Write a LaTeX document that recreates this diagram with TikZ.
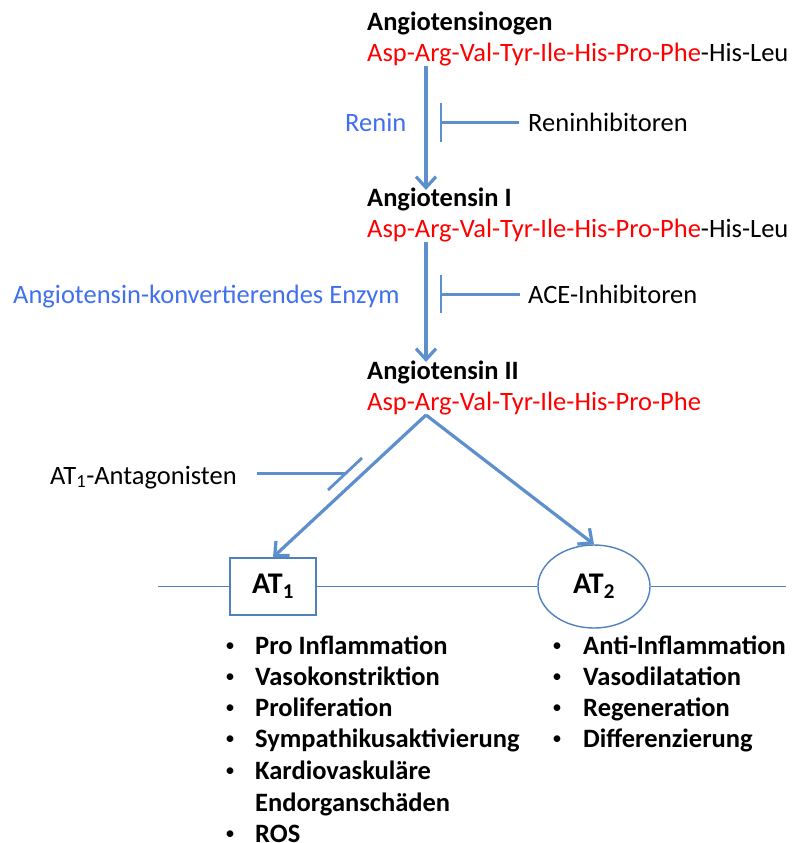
\documentclass[tikz,border=0pt]{standalone}
\usepackage{fontspec}
\setmainfont{Carlito}
\usetikzlibrary{arrows.meta,shapes.geometric}
\definecolor{arrblue}{RGB}{92,143,204}
\definecolor{thinblue}{RGB}{79,129,189}
\definecolor{enzblue}{RGB}{64,112,238}
\definecolor{pepred}{RGB}{255,0,0}
\begin{document}
\begin{tikzpicture}[x=1pt,y=-1pt,
  txt/.style={anchor=base west,inner sep=0pt,font=\fontsize{26.5}{31}\selectfont},
  btxt/.style={txt,font=\fontsize{26.5}{31}\selectfont\bfseries},
  bul/.style={anchor=base,inner sep=0pt,font=\fontsize{19}{22}\selectfont},
  arr/.style={draw=arrblue,line width=3.2pt,-{Straight Barb[length=11pt,width=20pt]}},
  inh/.style={draw=arrblue,line width=2.8pt},
  thin/.style={draw=thinblue,line width=1.4pt}]
\useasboundingbox (0,0) rectangle (798,843);
% peptides
\node[btxt] (agen) at (367,31) {Angiotensinogen};
\node[txt] (agenseq) at (367,62) {\textcolor{pepred}{Asp-Arg-Val-Tyr-Ile-His-Pro-Phe}-His-Leu};
\node[btxt] (ang1) at (367,206) {Angiotensin I};
\node[txt] (ang1seq) at (367,237) {\textcolor{pepred}{Asp-Arg-Val-Tyr-Ile-His-Pro-Phe}-His-Leu};
\node[btxt] (ang2) at (367,379) {Angiotensin II};
\node[txt] (ang2seq) at (367,410) {\textcolor{pepred}{Asp-Arg-Val-Tyr-Ile-His-Pro-Phe}};
% enzymes and inhibitors
\node[txt,text=enzblue] (renin) at (345,131) {Renin};
\node[txt] (rinh) at (528,131) {Reninhibitoren};
\node[txt,text=enzblue] (ace) at (13,303) {Angiotensin-konvertierendes Enzym};
\node[txt] (aceinh) at (528,303) {ACE-Inhibitoren};
\node[txt] (at1ant) at (50,484) {AT\textsubscript{1}-Antagonisten};
% coordinates
\coordinate (a1s) at (426,66.5);
\coordinate (a1e) at (426,190);
\coordinate (a2s) at (426,242);
\coordinate (a2e) at (426,362);
\coordinate (apex) at (426,415);
\coordinate (rbar1) at (441,103);
\coordinate (rbar2) at (441,142);
\coordinate (rbarm) at (441,122.5);
\coordinate (rl) at (519,122.5);
\coordinate (abar1) at (441,275);
\coordinate (abar2) at (441,313);
\coordinate (abarm) at (441,294.5);
\coordinate (al) at (520,294.5);
\coordinate (tbar1) at (362,458);
\coordinate (tbar2) at (328,490);
\coordinate (tbarm) at (345,473.5);
\coordinate (tl) at (257,473.5);
\coordinate (hl) at (158,586.5);
\coordinate (hr) at (786,586.5);
% receptors
\node[thin,draw,minimum width=86pt,minimum height=57pt,inner sep=0pt,
      font=\fontsize{30}{34}\selectfont\bfseries] (at1) at (273,586.5) {\raisebox{-2pt}{AT\textsubscript{1}}};
\node[thin,draw,ellipse,minimum width=112pt,minimum height=83pt,inner sep=0pt,
      font=\fontsize{30}{34}\selectfont\bfseries] (at2) at (594,586.5) {\raisebox{-2pt}{AT\textsubscript{2}}};
% connectors
\draw[arr] (a1s) -- (a1e);
\draw[arr] (a2s) -- (a2e);
\draw[inh] (rbar1) -- (rbar2);
\draw[inh] (rl) -- (rbarm);
\draw[inh] (abar1) -- (abar2);
\draw[inh] (al) -- (abarm);
\draw[arr] (apex) -- (at1.north);
\draw[arr] (apex) -- (at2.north);
\draw[inh] (tbar1) -- (tbar2);
\draw[inh] (tl) -- (tbarm);
\draw[thin] (hl) -- (at1.west);
\draw[thin] (at1.east) -- (at2.west);
\draw[thin] (at2.east) -- (hr);
% effect lists
\foreach \t [count=\i] in {Pro Inflammation,Vasokonstriktion,Proliferation,Sympathikusaktivierung,Kardiovaskuläre}{
  \node[bul] (lb\i) at (230,{651+31.3*(\i-1)}) {•};
  \node[btxt] (lt\i) at (255,{654+31.3*(\i-1)}) {\t};
}
\node[btxt] (lt6) at (255,811.5) {Endorganschäden};
\node[bul] (lb7) at (230,839.5) {•};
\node[btxt] (lt7) at (255,842.5) {ROS};
\foreach \t [count=\i] in {Anti-Inflammation,Vasodilatation,Regeneration,Differenzierung}{
  \node[bul] (rb\i) at (557,{651+31.3*(\i-1)}) {•};
  \node[btxt] (rt\i) at (583,{654+31.3*(\i-1)}) {\t};
}
\end{tikzpicture}
\end{document}
